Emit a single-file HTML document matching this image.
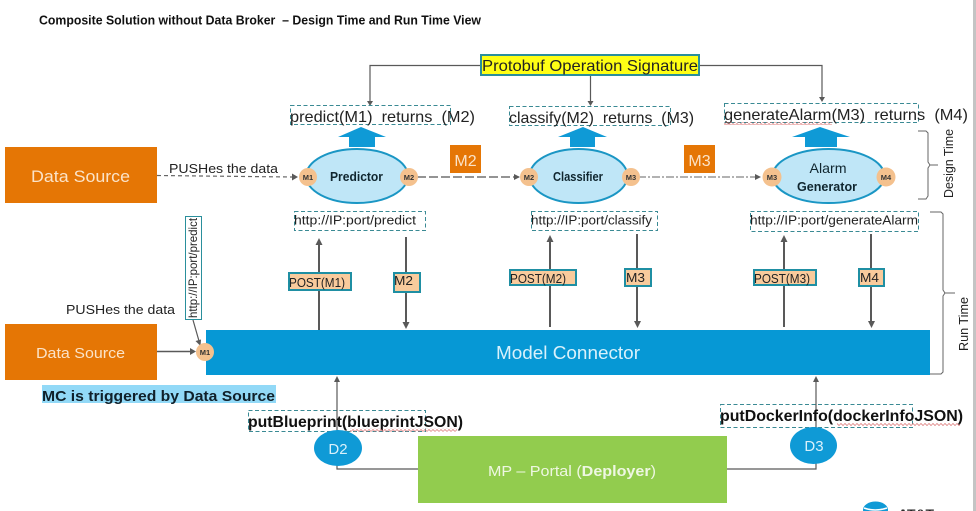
<!DOCTYPE html>
<html><head><meta charset="utf-8"><style>
html,body{margin:0;padding:0;background:#fff;width:976px;height:511px;overflow:hidden}
svg{display:block;font-family:"Liberation Sans",sans-serif}
text{white-space:pre}
.d{fill:none;stroke:#3a8a94;stroke-width:1;stroke-dasharray:4 2.5}
.l{fill:none;stroke:#595959;stroke-width:1.2}
.t{stroke:#595959;stroke-width:2;fill:none}
.o{fill:#bfe6f7;stroke:#1a96c4;stroke-width:2}
.p{fill:#f4c18e}
.b{fill:#0f9ad6}
.a{fill:#595959}
.s{fill:#f9cb9c;stroke:#1f8fa3;stroke-width:2}
</style></head><body>
<svg width="976" height="511" viewBox="0 0 976 511" xmlns="http://www.w3.org/2000/svg">
<defs>
<pattern id="w" width="4" height="3" patternUnits="userSpaceOnUse">
<path d="M0 1.500L1 .5L3 2.500L4 1.500" fill="none" stroke="#d86a6a" stroke-width=".7"/>
</pattern>
</defs>
<rect x="973" y="0" width="3" height="511" fill="#c4c4c4"/>
<text x="39" y="24.500" font-size="12.500" font-weight="bold" fill="#111" textLength="442" lengthAdjust="spacingAndGlyphs">Composite Solution without Data Broker  – Design Time and Run Time View</text>

<!-- Protobuf -->
<path class="l" d="M481 65.500H370V104M699 65.500H822V100M590.500 75V104"/>
<path class="a" d="M370 106l-3-5h6zM590.500 106l-3-5h6zM822 102l-3-5h6z"/>
<rect x="481" y="55" width="218" height="20" fill="#ffff14" stroke="#2a8f9c" stroke-width="2"/>
<text x="482" y="71" font-size="16" fill="#222" textLength="216" lengthAdjust="spacingAndGlyphs">Protobuf Operation Signature</text>

<!-- Signature boxes -->
<rect class="d" x="290.500" y="105.500" width="160" height="19"/>
<rect class="d" x="509.500" y="106.500" width="161" height="19"/>
<rect class="d" x="724.500" y="103.500" width="194" height="19"/>
<text x="290" y="122" font-size="16" fill="#222" textLength="185" lengthAdjust="spacingAndGlyphs">predict(M1)  returns  (M2)</text>
<text x="509" y="123" font-size="16" fill="#222" textLength="185" lengthAdjust="spacingAndGlyphs">classify(M2)  returns  (M3)</text>
<text x="724" y="120" font-size="16" fill="#222" textLength="244" lengthAdjust="spacingAndGlyphs">generateAlarm(M3)  returns  (M4)</text>
<rect x="724" y="122" width="108" height="3" fill="url(#w)"/>

<!-- Up block arrows -->
<path class="b" d="M361 127l25 10h-11v10h-26v-10h-11z"/>
<path class="b" d="M583 127l24 10h-12v10h-25v-10h-12z"/>
<path class="b" d="M820 127l30 10h-13v10h-32v-10h-13z"/>

<!-- Data source top -->
<rect x="5" y="147" width="152" height="56" fill="#e57605"/>
<text x="31" y="182" font-size="17" fill="#fbe3c8" textLength="99" lengthAdjust="spacingAndGlyphs">Data Source</text>
<text x="169" y="173" font-size="13" fill="#222" textLength="109" lengthAdjust="spacingAndGlyphs">PUSHes the data</text>
<path d="M157 175.500L292 177" fill="none" stroke="#666" stroke-width="1.200" stroke-dasharray="4 3"/>
<path class="a" d="M298 177l-6-3.500v7z"/>

<!-- Flow connectors -->
<path d="M417 177H519" fill="none" stroke="#555" stroke-width="1.200" stroke-dasharray="9 3"/>
<path class="a" d="M520 177l-6-3v6z"/>
<path d="M638 177H757" fill="none" stroke="#666" stroke-width="1" stroke-dasharray="8 2 2 2"/>
<path class="a" d="M761 177l-6-3v6z"/>
<rect x="450" y="145" width="31" height="28" fill="#e57605"/>
<text x="465.500" y="166" font-size="16" fill="#fbe3c8" text-anchor="middle">M2</text>
<rect x="684" y="145" width="31" height="28" fill="#e57605"/>
<text x="699.500" y="166" font-size="16" fill="#fbe3c8" text-anchor="middle">M3</text>

<!-- Ovals -->
<ellipse class="o" cx="357" cy="176" rx="51" ry="27"/>
<ellipse class="o" cx="578.500" cy="176" rx="49" ry="27"/>
<ellipse class="o" cx="828.500" cy="176" rx="56" ry="27"/>
<text x="330" y="181" font-size="13" font-weight="bold" fill="#10262f" textLength="53" lengthAdjust="spacingAndGlyphs">Predictor</text>
<text x="553" y="181" font-size="13" font-weight="bold" fill="#10262f" textLength="50" lengthAdjust="spacingAndGlyphs">Classifier</text>
<text x="809.500" y="173" font-size="14" fill="#10262f" textLength="37" lengthAdjust="spacingAndGlyphs">Alarm</text>
<text x="797" y="191" font-size="13" font-weight="bold" fill="#10262f" textLength="60" lengthAdjust="spacingAndGlyphs">Generator</text>

<g font-size="7.500" font-weight="bold" fill="#333" text-anchor="middle">
<circle class="p" cx="308" cy="177" r="9"/><text x="308" y="180">M1</text>
<circle class="p" cx="409" cy="177" r="9"/><text x="409" y="180">M2</text>
<circle class="p" cx="529" cy="177" r="9"/><text x="529" y="180">M2</text>
<circle class="p" cx="631" cy="177" r="9"/><text x="631" y="180">M3</text>
<circle class="p" cx="772" cy="177" r="9.500"/><text x="772" y="180">M3</text>
<circle class="p" cx="886" cy="177" r="9.500"/><text x="886" y="180">M4</text>
</g>

<!-- URL boxes -->
<rect class="d" x="294.500" y="211.500" width="131" height="19"/>
<rect class="d" x="531.500" y="211.500" width="126" height="19"/>
<rect class="d" x="750.500" y="211.500" width="168" height="20"/>
<text x="294" y="224.500" font-size="13" fill="#222" textLength="122" lengthAdjust="spacingAndGlyphs">http://IP:port/predict</text>
<text x="531" y="224.500" font-size="13" fill="#222" textLength="121" lengthAdjust="spacingAndGlyphs">http://IP:port/classify</text>
<text x="750" y="224.500" font-size="13" fill="#222" textLength="168" lengthAdjust="spacingAndGlyphs">http://IP:port/generateAlarm</text>

<!-- Vertical arrows -->
<path class="t" d="M319 330V243M406 237V324M550 327V240M637 234V323M784 327V240M871 234V323"/>
<path class="a" d="M319 238l-3.500 7h7zM406 329l-3.500-7h7zM550 235l-3.500 7h7zM637.500 328l-3.500-7h7zM784 235l-3.500 7h7zM871.500 328l-3.500-7h7z"/>

<rect class="s" x="289" y="273" width="62" height="17"/>
<rect class="s" x="394" y="273" width="26" height="19"/>
<rect class="s" x="510" y="270" width="66" height="15"/>
<rect class="s" x="625" y="269" width="26" height="17"/>
<rect class="s" x="754" y="270" width="62" height="15"/>
<rect class="s" x="859" y="269" width="25" height="17"/>
<text x="289" y="287" font-size="13" fill="#222" textLength="56" lengthAdjust="spacingAndGlyphs">POST(M1)</text>
<text x="394" y="285" font-size="13" fill="#222" textLength="19" lengthAdjust="spacingAndGlyphs">M2</text>
<text x="510" y="283" font-size="13" fill="#222" textLength="56" lengthAdjust="spacingAndGlyphs">POST(M2)</text>
<text x="626" y="282" font-size="13" fill="#222" textLength="19" lengthAdjust="spacingAndGlyphs">M3</text>
<text x="754" y="283" font-size="13" fill="#222" textLength="56" lengthAdjust="spacingAndGlyphs">POST(M3)</text>
<text x="860" y="282" font-size="13" fill="#222" textLength="19" lengthAdjust="spacingAndGlyphs">M4</text>

<!-- Braces -->
<path d="M918 131h8l2 2v29l2 3h8M930 165l-2 3v28l-2 3h-8" fill="none" stroke="#666" stroke-width="1"/>
<path d="M930 212h11l2 2v76l2 3h10M945 293l-2 3v76l-2 2h-11" fill="none" stroke="#666" stroke-width="1"/>
<text transform="translate(953 198) rotate(-90)" font-size="12.500" fill="#222" textLength="69" lengthAdjust="spacingAndGlyphs">Design Time</text>
<text transform="translate(968 351) rotate(-90)" font-size="12.500" fill="#222" textLength="54" lengthAdjust="spacingAndGlyphs">Run Time</text>

<!-- Bottom left -->
<text x="66" y="314" font-size="13" fill="#222" textLength="109" lengthAdjust="spacingAndGlyphs">PUSHes the data</text>
<rect x="185.500" y="216.500" width="16" height="103" fill="#fff" stroke="#2a8f9c" stroke-width="1"/>
<text transform="translate(197 318) rotate(-90)" font-size="12" fill="#222" textLength="100" lengthAdjust="spacingAndGlyphs">http://IP:port/predict</text>
<path class="l" d="M193 320L199 341"/>
<path class="a" d="M200.500 346l-5-5 5.500-1.500z"/>
<rect x="5" y="324" width="152" height="56" fill="#e57605"/>
<text x="36" y="358" font-size="15" fill="#fbe3c8" textLength="89" lengthAdjust="spacingAndGlyphs">Data Source</text>
<path class="t" d="M157 351.500H191" style="stroke-width:1.500"/>
<path class="a" d="M196 351.500l-6-3.500v7z"/>

<!-- Model Connector -->
<rect x="206" y="330" width="724" height="45" fill="#0698d5"/>
<circle class="p" cx="205" cy="352" r="9"/>
<text x="205" y="355" font-size="7.500" font-weight="bold" fill="#333" text-anchor="middle">M1</text>
<text x="496" y="359" font-size="18" fill="#d9f1fb" textLength="144" lengthAdjust="spacingAndGlyphs">Model Connector</text>

<rect x="42" y="385" width="234" height="18" fill="#92d9f7"/>
<text x="42" y="401" font-size="15" font-weight="bold" fill="#10202a" textLength="233" lengthAdjust="spacingAndGlyphs">MC is triggered by Data Source</text>

<!-- Deploy -->
<rect class="d" x="248.500" y="410.500" width="177" height="21"/>
<rect class="d" x="720.500" y="404.500" width="192" height="23"/>
<path class="l" d="M337 380V469H418M727 469H816V380"/>
<path class="a" d="M337 376l-3 6h6zM816 376l-3 6h6z"/>
<text x="248" y="427" font-size="16" font-weight="bold" fill="#111" textLength="215" lengthAdjust="spacingAndGlyphs">putBlueprint(blueprintJSON)</text>
<text x="720" y="421" font-size="16" font-weight="bold" fill="#111" textLength="243" lengthAdjust="spacingAndGlyphs">putDockerInfo(dockerInfoJSON)</text>
<rect x="350" y="428.500" width="107" height="3" fill="url(#w)"/>
<rect x="837" y="423" width="123" height="3" fill="url(#w)"/>
<ellipse class="b" cx="338" cy="448" rx="24" ry="18"/>
<ellipse class="b" cx="813.500" cy="445.500" rx="23.500" ry="18.500"/>
<text x="338" y="454" font-size="15" fill="#d9f1fb" text-anchor="middle">D2</text>
<text x="814" y="451" font-size="15" fill="#d9f1fb" text-anchor="middle">D3</text>
<rect x="418" y="436" width="309" height="67" fill="#92cc4e"/>
<text x="488" y="476" font-size="15" fill="#eef7e2" textLength="168" lengthAdjust="spacingAndGlyphs">MP – Portal (<tspan font-weight="bold">Deployer</tspan>)</text>

<!-- Logo -->
<ellipse cx="875.500" cy="510" rx="12.500" ry="8.500" fill="#0f9ad6"/>
<path d="M864 508q11 4 23 0" stroke="#fff" stroke-width="1.500" fill="none"/>
<text x="898" y="517" font-size="11" font-weight="bold" fill="#222" textLength="36" lengthAdjust="spacingAndGlyphs">AT&amp;T</text>
</svg>
</body></html>
